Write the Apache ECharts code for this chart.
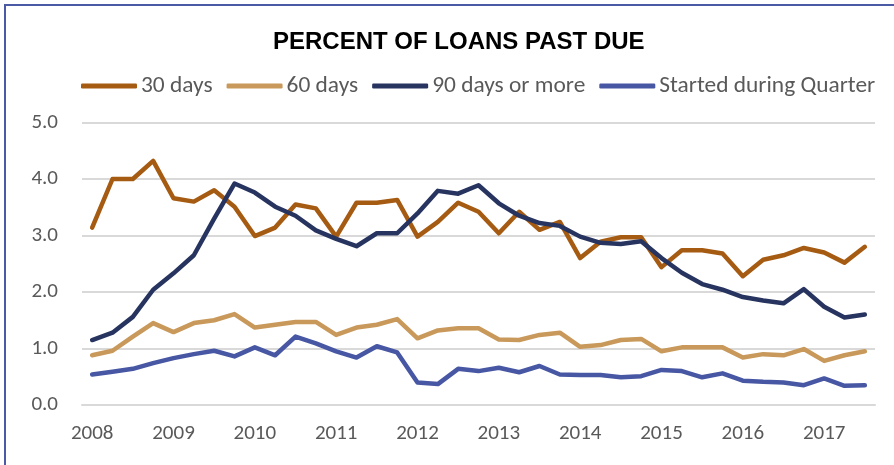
<!DOCTYPE html>
<html>
<head>
<meta charset="utf-8">
<script src="https://cdn.jsdelivr.net/npm/echarts@6/dist/echarts.min.js"></script>
<style>
  html, body { margin: 0; padding: 0; background: #fff; }
  #main { width: 894px; height: 465px; }
</style>
</head>
<body>
<div id="main"></div>
<script>
// quarters, 2008 Q1 - 2017 Q3
var quarters = [
	'2008 Q1','2008 Q2','2008 Q3','2008 Q4',
	'2009 Q1','2009 Q2','2009 Q3','2009 Q4',
	'2010 Q1','2010 Q2','2010 Q3','2010 Q4',
	'2011 Q1','2011 Q2','2011 Q3','2011 Q4',
	'2012 Q1','2012 Q2','2012 Q3','2012 Q4',
	'2013 Q1','2013 Q2','2013 Q3','2013 Q4',
	'2014 Q1','2014 Q2','2014 Q3','2014 Q4',
	'2015 Q1','2015 Q2','2015 Q3','2015 Q4',
	'2016 Q1','2016 Q2','2016 Q3','2016 Q4',
	'2017 Q1','2017 Q2','2017 Q3'
];
var seriesNames = ['30 days', '60 days', '90 days or more', 'Started during Quarter'];
var days30 = [3.14,4.00,4.00,4.32,3.66,3.60,3.80,3.51,2.99,3.14,3.55,3.48,2.98,
	3.58,3.58,3.63,2.98,3.24,3.58,3.42,3.04,3.42,3.10,3.24,2.60,2.89,
	2.97,2.97,2.44,2.74,2.74,2.68,2.28,2.57,2.65,2.78,2.70,2.52,2.80];
var days60 = [0.88,0.96,1.21,1.45,1.29,1.45,1.50,1.61,1.37,1.42,1.47,1.47,1.24,
	1.37,1.42,1.52,1.18,1.32,1.36,1.36,1.16,1.15,1.24,1.28,1.03,1.06,
	1.15,1.17,0.95,1.02,1.02,1.02,0.84,0.90,0.88,0.99,0.78,0.88,0.95];
var days90 = [1.15,1.28,1.56,2.04,2.33,2.65,3.30,3.92,3.76,3.51,3.35,3.09,2.94,
	2.81,3.04,3.04,3.39,3.79,3.74,3.89,3.57,3.35,3.22,3.17,2.98,2.87,
	2.85,2.90,2.60,2.34,2.14,2.04,1.91,1.85,1.80,2.05,1.74,1.55,1.60];
var started = [0.54,0.59,0.64,0.74,0.83,0.90,0.96,0.86,1.02,0.88,1.21,1.09,0.95,
	0.84,1.04,0.93,0.40,0.37,0.64,0.60,0.66,0.58,0.69,0.54,0.53,0.53,
	0.49,0.51,0.62,0.60,0.49,0.56,0.43,0.41,0.40,0.35,0.47,0.34,0.35];
var colors = ['#A65B12', '#C8995A', '#27345F', '#4757A3'];

var labelFont = 'Carlito, Lato, "Liberation Sans", sans-serif';

function makeLine(name, data, color) {
	return {
		name: name,
		type: 'line',
		data: data,
		symbol: 'none',
		smooth: false,
		lineStyle: { color: color, width: 4.5, cap: 'round', join: 'round' },
		itemStyle: { color: color }
	};
}

var myChart = echarts.init(document.getElementById('main'));
var option = {
	animation: false,
	color: colors,
	graphic: [{
		type: 'rect',
		shape: { x: 5, y: 5, width: 920, height: 500 },
		style: { fill: 'none', stroke: '#4A5AA5', lineWidth: 2 }
	}],
	title: {
		text: 'PERCENT OF LOANS PAST DUE',
		left: 268,
		top: 25,
		textStyle: { fontFamily: '"Liberation Sans", Arial, sans-serif', fontWeight: 'bold', fontSize: 24, color: '#000' }
	},
	legend: {
		top: 68,
		left: 76,
		itemWidth: 56,
		itemHeight: 5,
		itemGap: 14,
		icon: 'roundRect',
		textStyle: { fontFamily: labelFont, fontSize: 23.4, lineHeight: 26, color: '#595959', padding: [0, 0, 0, -1] },
		data: seriesNames
	},
	grid: { left: 82, right: 19, top: 122.5, bottom: 60 },
	xAxis: {
		type: 'category',
		data: quarters,
		boundaryGap: true,
		axisLine: { lineStyle: { color: '#D9D9D9', width: 2 } },
		axisTick: { interval: 3, length: 7, lineStyle: { color: '#D9D9D9', width: 2 } },
		axisLabel: {
			interval: 3,
			margin: 18,
			fontFamily: labelFont,
			fontSize: 21,
			color: '#595959',
			formatter: function (v) { return v.slice(0, 4); }
		},
		splitLine: { show: false }
	},
	yAxis: {
		type: 'value',
		min: 0,
		max: 5,
		interval: 1,
		axisLine: { show: false },
		axisTick: { show: false },
		axisLabel: {
			margin: 24,
			fontFamily: labelFont,
			fontSize: 21,
			color: '#595959',
			formatter: function (v) { return v.toFixed(1); }
		},
		splitLine: { lineStyle: { color: '#D9D9D9', width: 2 } }
	},
	series: [
		makeLine(seriesNames[0], days30, colors[0]),
		makeLine(seriesNames[1], days60, colors[1]),
		makeLine(seriesNames[2], days90, colors[2]),
		makeLine(seriesNames[3], started, colors[3])
	]
};
myChart.setOption(option);
</script>
</body>
</html>
